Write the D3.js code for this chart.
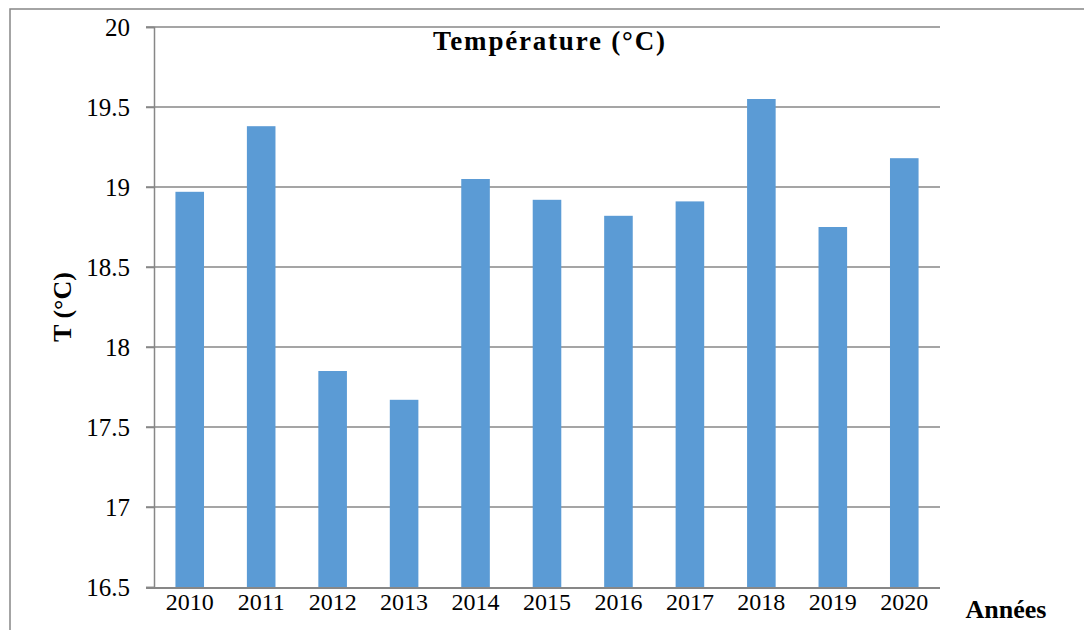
<!DOCTYPE html>
<html><head><meta charset="utf-8">
<script src="https://cdn.jsdelivr.net/npm/d3@7"></script>
<style>html,body{margin:0;padding:0;background:#fff;overflow:hidden}</style>
</head><body>
<svg id="c" width="1084" height="630"></svg>
<script>
const years = ["2010","2011","2012","2013","2014","2015","2016","2017","2018","2019","2020"];
const temps = [18.97,19.38,17.85,17.67,19.05,18.92,18.82,18.91,19.55,18.75,19.18];
const yTicks = [16.5,17,17.5,18,18.5,19,19.5,20];

const svg = d3.select("#c");
const L = 154, R = 940, T = 27, B = 587;
const font = '"Liberation Serif","Times New Roman",serif';
const grid = "#878787";

svg.append("rect").attr("x",10).attr("y",9).attr("width",1100).attr("height",700)
  .attr("fill","none").attr("stroke",grid).attr("stroke-width",1.5);

const x = d3.scaleBand().domain(years).range([L,R]).paddingInner(0.6).paddingOuter(0.3);
const y = d3.scaleLinear().domain([16.5,20]).range([B,T]);

svg.append("g").selectAll("line").data(yTicks.filter(d=>d>16.5)).join("line")
  .attr("x1",L-8).attr("x2",R).attr("y1",d=>y(d)).attr("y2",d=>y(d))
  .attr("stroke",grid).attr("stroke-width",1.5);

svg.append("g").selectAll("rect").data(years).join("rect")
  .attr("x",d=>x(d)).attr("width",x.bandwidth())
  .attr("y",(d,i)=>y(temps[i])).attr("height",(d,i)=>y(16.5)-y(temps[i]))
  .attr("fill","#5b9bd5");

const ya = svg.append("g").attr("transform",`translate(${L},0)`)
  .call(d3.axisLeft(y).tickValues(yTicks).tickSize(8).tickPadding(16).tickFormat(d3.format("")));
ya.select(".domain").attr("stroke",grid).attr("stroke-width",1.5);
ya.selectAll(".tick line").attr("stroke",grid).attr("stroke-width",1.5);
ya.selectAll("text").style("font-family",font).style("font-size","25px").attr("fill","#000");

const xa = svg.append("g").attr("transform",`translate(0,${B+1})`)
  .call(d3.axisBottom(x).tickSize(0).tickPadding(5));
xa.select(".domain").attr("stroke",grid).attr("stroke-width",2).attr("d",`M${L-8},0H${R}`);
xa.selectAll("text").style("font-family",font).style("font-size","24px").attr("fill","#000");

svg.append("text").attr("x",433).attr("y",50).attr("textLength",232).attr("lengthAdjust","spacing")
  .style("font-family",font).style("font-weight","bold").style("font-size","27px").text("Température (°C)");
svg.append("text").attr("transform","translate(71,307) rotate(-90)").attr("text-anchor","middle")
  .style("font-family",font).style("font-weight","bold").style("font-size","26px").text("T (°C)");
svg.append("text").attr("x",1006).attr("y",618).attr("text-anchor","middle")
  .style("font-family",font).style("font-weight","bold").style("font-size","26px").text("Années");
</script>
</body></html>
